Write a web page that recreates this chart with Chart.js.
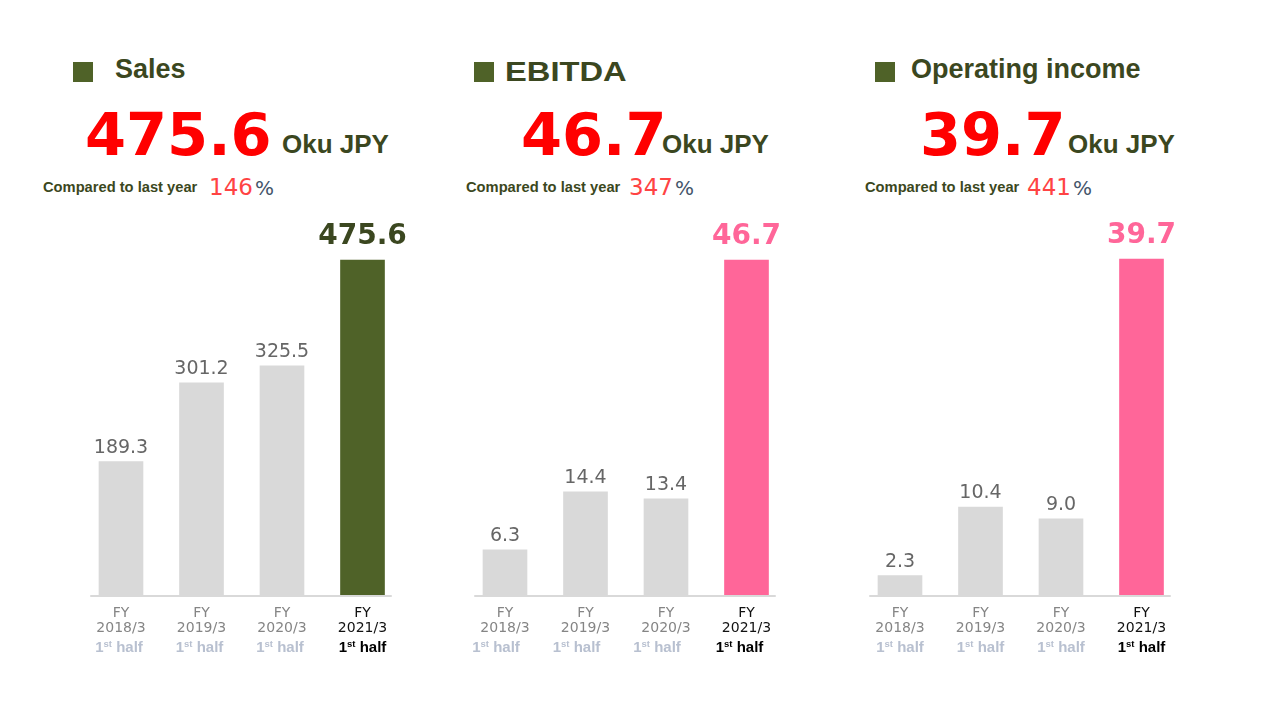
<!DOCTYPE html>
<html>
<head>
<meta charset="utf-8">
<script src="https://cdn.jsdelivr.net/npm/chart.js@4.4.1/dist/chart.umd.min.js"></script>
<style>
  html, body { margin:0; padding:0; background:#fff; }
  #page { position:relative; width:1280px; height:720px; overflow:hidden; }
  .abs { position:absolute; white-space:nowrap; line-height:1; }
  .sq { position:absolute; width:20px; height:20px; background:#4f6228; }
  .title { font-family:"Liberation Sans", Arial, sans-serif; font-weight:bold; font-size:27px; color:#3b4720; }
  .big { font-family:"DejaVu Sans", Verdana, sans-serif; font-weight:bold; font-size:59px; color:#ff0000; }
  .unit { font-family:"Liberation Sans", Arial, sans-serif; font-weight:bold; font-size:26px; color:#3b4720; }
  .cmp { font-family:"Liberation Sans", Arial, sans-serif; font-weight:bold; font-size:14.7px; color:#3b4720; }
  .pct { font-family:"DejaVu Sans", Verdana, sans-serif; font-size:23px; color:#ff4343; }
  .pct span { font-size:20px; color:#44546a; margin-left:2px; }
  canvas { position:absolute; }
</style>
</head>
<body>
<div id="page">
  <!-- Sales -->
  <div class="sq" style="left:73px;top:62px"></div>
  <div class="abs title" style="left:115px;top:56px">Sales</div>
  <div class="abs big" style="left:85px;top:105px">475.6</div>
  <div class="abs unit" style="left:282px;top:131px">Oku JPY</div>
  <div class="abs cmp" style="left:43px;top:179.5px">Compared to last year</div>
  <div class="abs pct" style="left:209px;top:176px">146<span>%</span></div>

  <!-- EBITDA -->
  <div class="sq" style="left:474px;top:62px"></div>
  <div class="abs title" style="left:505px;top:59px;transform:scaleX(1.21);transform-origin:left top">EBITDA</div>
  <div class="abs big" style="left:521px;top:105px">46.7</div>
  <div class="abs unit" style="left:662px;top:131px">Oku JPY</div>
  <div class="abs cmp" style="left:466px;top:179.5px">Compared to last year</div>
  <div class="abs pct" style="left:629px;top:176px">347<span>%</span></div>

  <!-- Operating income -->
  <div class="sq" style="left:875px;top:62px"></div>
  <div class="abs title" style="left:911px;top:56px">Operating income</div>
  <div class="abs big" style="left:920px;top:105px">39.7</div>
  <div class="abs unit" style="left:1068px;top:131px">Oku JPY</div>
  <div class="abs cmp" style="left:865px;top:179.5px">Compared to last year</div>
  <div class="abs pct" style="left:1027px;top:176px">441<span>%</span></div>

  <canvas id="c1" width="350" height="470" style="left:70px;top:200px"></canvas>
  <canvas id="c2" width="350" height="470" style="left:454px;top:200px"></canvas>
  <canvas id="c3" width="350" height="470" style="left:849px;top:200px"></canvas>
</div>
<script>
// ---- data ----
const periods = ['2018/3', '2019/3', '2020/3', '2021/3'];
const fyLabel = 'FY';
const halfLabel = ['1', 'st', ' half'];
const salesValues = [189.3, 301.2, 325.5, 475.6];
const ebitdaValues = [6.3, 14.4, 13.4, 46.7];
const opIncomeValues = [2.3, 10.4, 9.0, 39.7];

const GRAY = '#d9d9d9';
const OLIVE = '#4f6228';
const PINK = '#ff6699';

const barLabels = {
  id: 'barLabels',
  afterDatasetsDraw(chart, args, opts) {
    const ctx = chart.ctx;
    const meta = chart.getDatasetMeta(0);
    const vals = chart.data.datasets[0].data;
    meta.data.forEach((bar, i) => {
      const hi = i === meta.data.length - 1;
      ctx.save();
      ctx.font = hi ? 'bold 28px "DejaVu Sans"' : '19px "DejaVu Sans"';
      ctx.fillStyle = hi ? opts.hiColor : '#666666';
      ctx.textAlign = 'center';
      ctx.textBaseline = 'alphabetic';
      ctx.fillText(vals[i].toFixed(1), bar.x, bar.y - (hi ? 16 : 8.5));
      ctx.restore();
    });
  }
};

const axisAndTicks = {
  id: 'axisAndTicks',
  afterDraw(chart, args, opts) {
    const ctx = chart.ctx;
    const area = chart.chartArea;
    const xs = chart.scales.x;
    ctx.save();
    ctx.strokeStyle = '#d9d9d9';
    ctx.lineWidth = 2;
    ctx.beginPath();
    ctx.moveTo(area.left + 9.5, area.bottom + 1);
    ctx.lineTo(area.right - 11, area.bottom + 1);
    ctx.stroke();
    const n = chart.data.labels.length;
    chart.data.labels.forEach((lab, i) => {
      const x = xs.getPixelForValue(i);
      const last = i === n - 1;
      ctx.textAlign = 'center';
      ctx.textBaseline = 'alphabetic';
      ctx.fillStyle = last ? '#111111' : '#858585';
      ctx.font = '14px "DejaVu Sans"';
      ctx.fillText(fyLabel, x, area.bottom + 22);
      ctx.fillText(lab, x, area.bottom + 37);
      // "1st half" with superscript
      const big = 'bold 15px "Liberation Sans"';
      const small = 'bold 9.5px "Liberation Sans"';
      ctx.font = big; const w1 = ctx.measureText(halfLabel[0]).width;
      const w3 = ctx.measureText(halfLabel[2]).width;
      ctx.font = small; const w2 = ctx.measureText(halfLabel[1]).width;
      const total = w1 + w2 + w3;
      const shift = last ? opts.lastShift : opts.halfShift;
      let sx = x - total / 2 + shift;
      const by = area.bottom + 57;
      ctx.textAlign = 'left';
      ctx.fillStyle = last ? '#000000' : '#b8c0d0';
      ctx.font = big; ctx.fillText(halfLabel[0], sx, by); sx += w1;
      ctx.font = small; ctx.fillText(halfLabel[1], sx, by - 5); sx += w2;
      ctx.font = big; ctx.fillText(halfLabel[2], sx, by);
    });
    ctx.restore();
  }
};

function makeChart(id, values, hiColor, yMax, halfShift, lastShift) {
  const colors = values.map((v, i) => i === values.length - 1 ? hiColor : GRAY);
  new Chart(document.getElementById(id), {
    type: 'bar',
    data: {
      labels: periods,
      datasets: [{ data: values, backgroundColor: colors, barThickness: 44, borderWidth: 0 }]
    },
    options: {
      responsive: false,
      animation: false,
      layout: { padding: { left: 10.75, right: 17.25, top: 20, bottom: 75 } },
      plugins: {
        legend: { display: false },
        tooltip: { enabled: false },
        barLabels: { hiColor: hiColor === OLIVE ? '#3b4720' : PINK },
        axisAndTicks: { halfShift: halfShift, lastShift: lastShift }
      },
      scales: {
        x: { display: false },
        y: { display: false, min: 0, max: yMax }
      }
    },
    plugins: [barLabels, axisAndTicks]
  });
}

makeChart('c1', salesValues, OLIVE, 532.4, -2, 0);
makeChart('c2', ebitdaValues, PINK, 52.28, -9, -7);
makeChart('c3', opIncomeValues, PINK, 44.31, 0, 0);
</script>
</body>
</html>
